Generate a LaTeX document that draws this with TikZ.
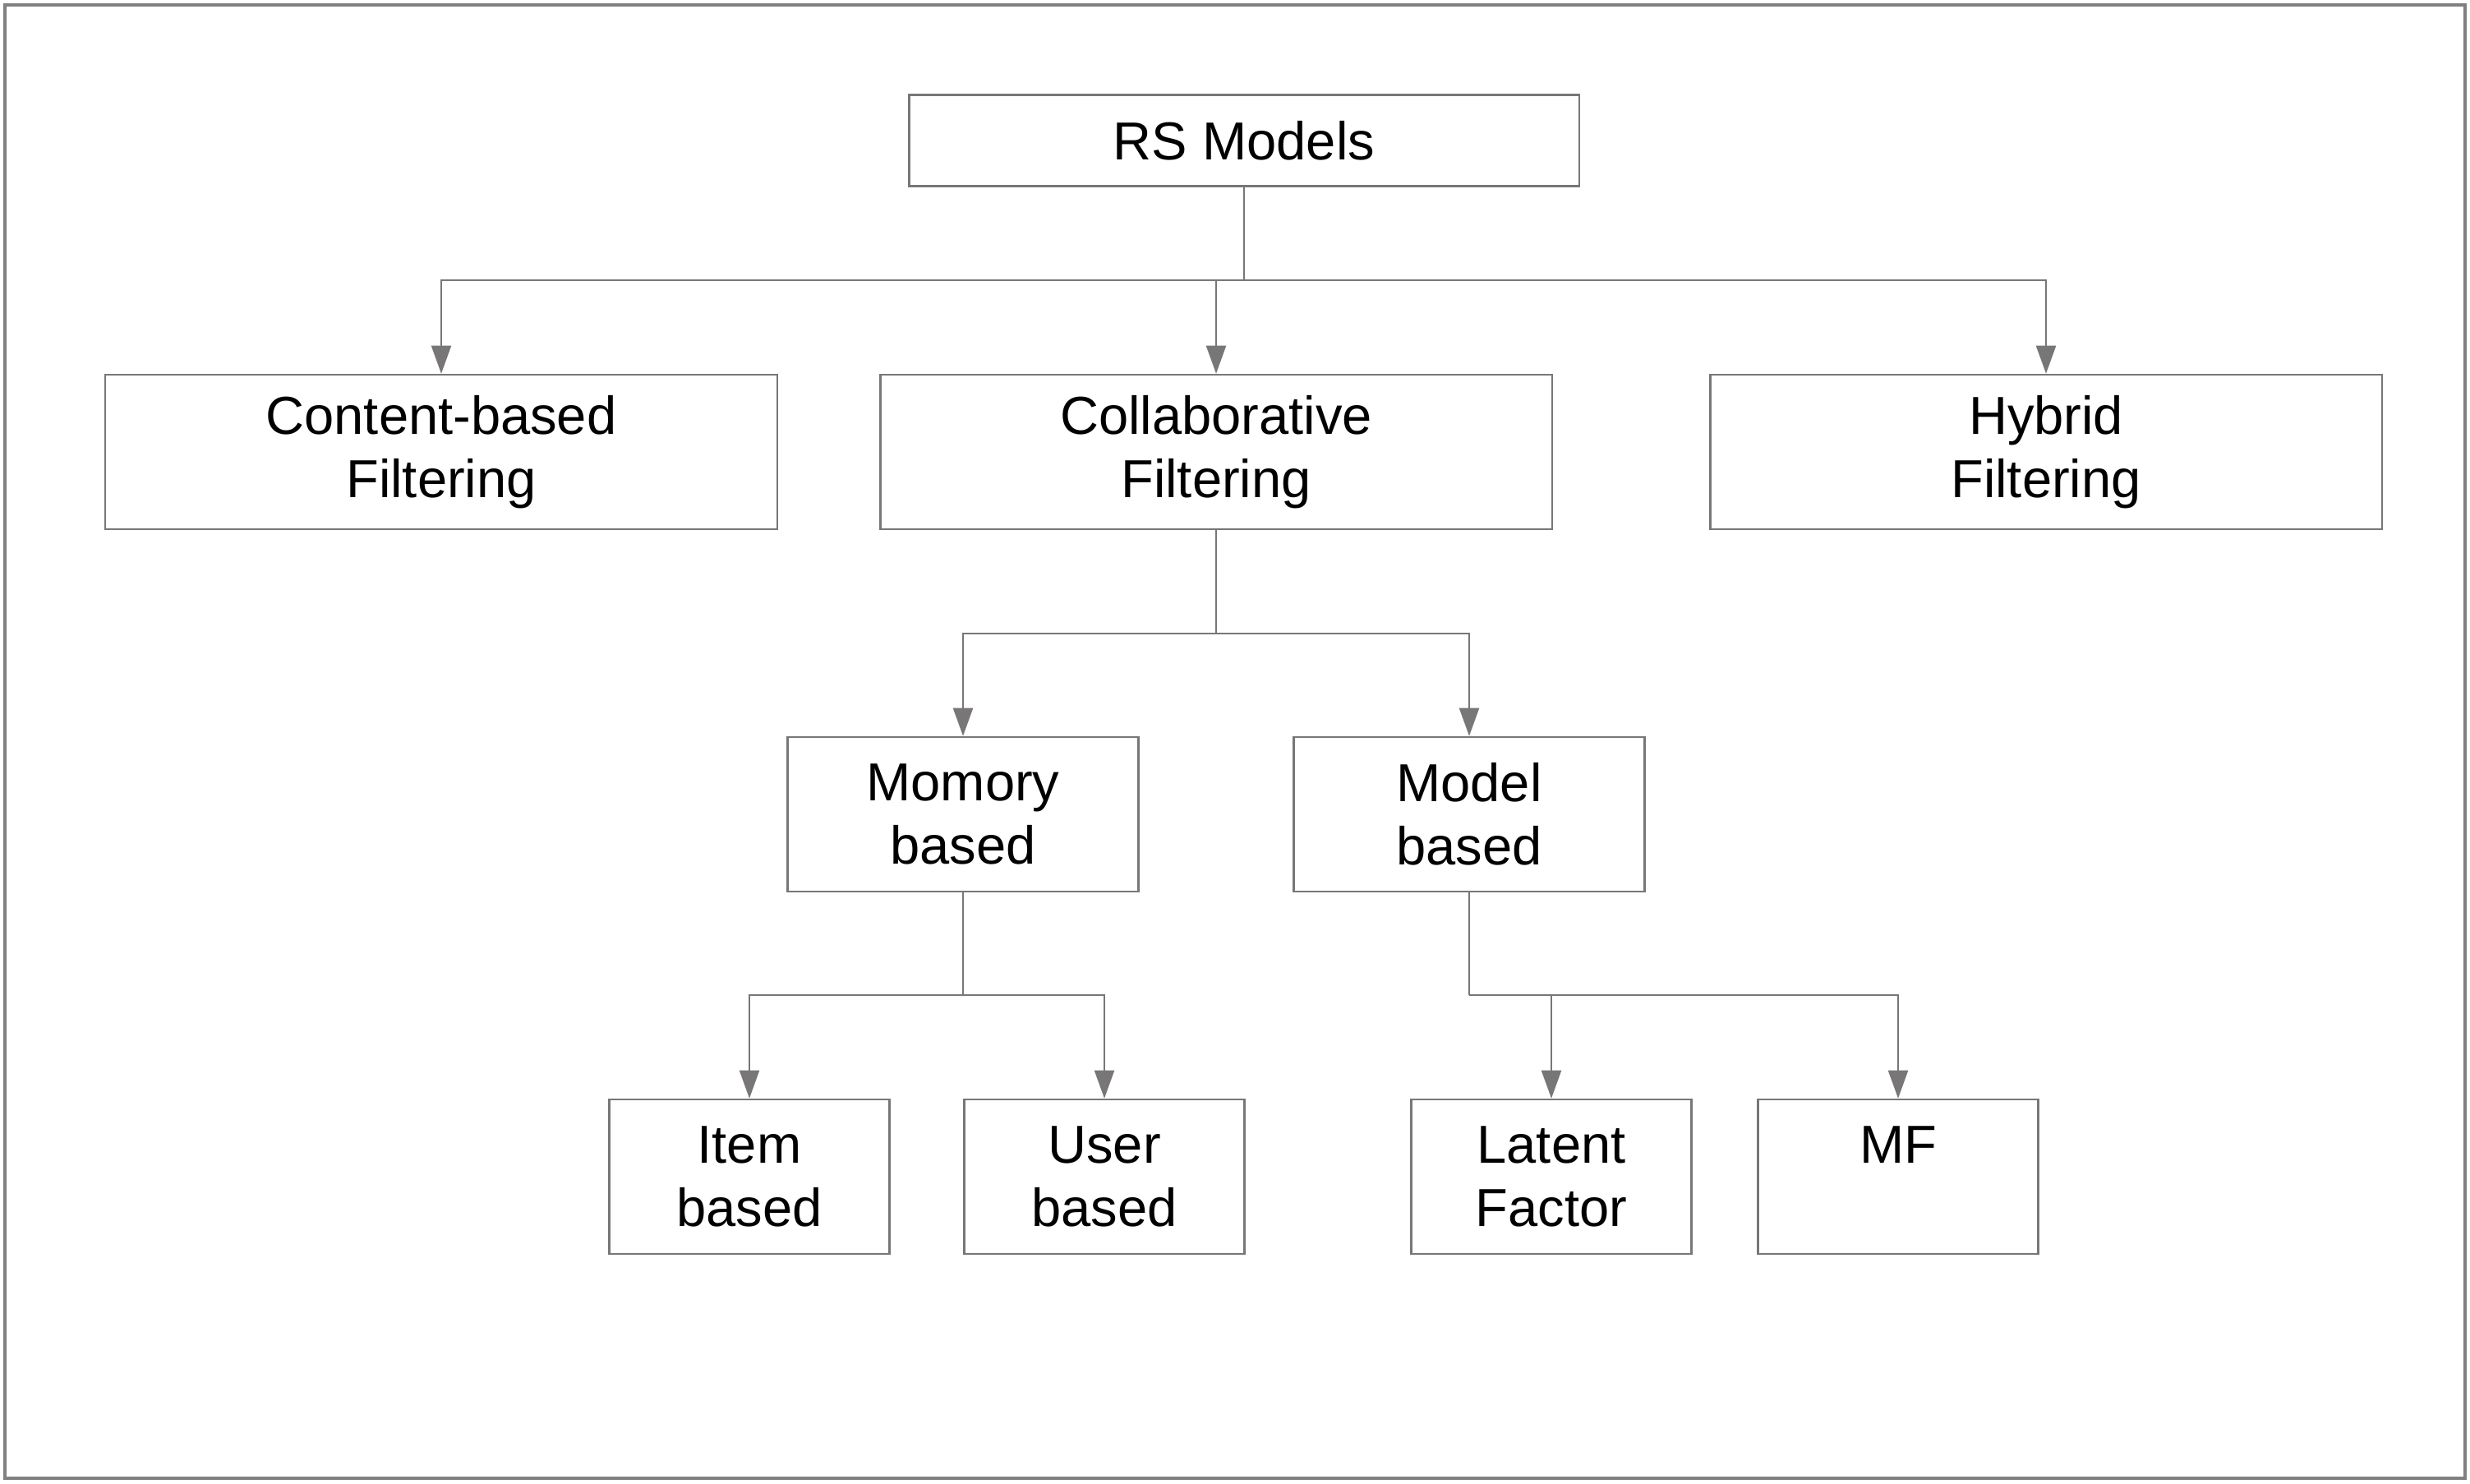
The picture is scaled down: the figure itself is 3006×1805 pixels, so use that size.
\documentclass[tikz,border=0pt]{standalone}
\usepackage{fontspec}
\setmainfont{Liberation Sans}
\usetikzlibrary{arrows.meta}
\usetikzlibrary{positioning}
\definecolor{line-gray}{RGB}{120,118,118}
\definecolor{frame-gray}{RGB}{128,128,128}

\begin{document}
\begin{tikzpicture}[x=0.01cm, y=-0.01cm,
  box/.style={draw=line-gray, line width=0.7pt, align=center, inner sep=0pt,
    font=\fontsize{18.5}{22}\selectfont},
  wide/.style={box, minimum width=8.17cm, minimum height=1.88cm},
  mid/.style={box, minimum width=4.27cm, minimum height=1.88cm},
  small/.style={box, minimum width=3.41cm, minimum height=1.88cm},
  link/.style={draw=line-gray, line width=0.6pt},
  arr/.style={link, -{Triangle[width=0.24cm, length=0.34cm]}}]
% frame
\useasboundingbox (0,0) rectangle (3006,1805);
\draw[frame-gray, line width=1.3pt] (6,6) rectangle (3000,1799);
% top level
\node[box, minimum width=8.15cm, minimum height=1.11cm] (rs) at (1514,171) {RS Models};
% second level
\node[wide] (cbf) at (537,550) {Content-based\\Filtering};
\node[wide] (clf) at (1480,550) {Collaborative\\Filtering};
\node[wide] (hyf) at (2490,550) {Hybrid\\Filtering};
% third level
\node[mid] (mem) at (1172,991) {Momory\\based};
\node[mid] (mod) at (1788,991) {Model\\based};
% leaves
\node[small] (itm) at (912,1432) {Item\\based};
\node[small] (usr) at (1344,1432) {User\\based};
\node[small] (lat) at (1888,1432) {Latent\\Factor};
\node[small] (mf) at (2310,1432) {MF\\\mbox{}};
% branch points
\coordinate (rsj) at (1514,341);
\coordinate (clj) at (1480,771);
\coordinate (memj) at (1172,1211);
\coordinate (modj) at (1788,1211);
% connectors
\draw[link] (rs.south) -- (rsj);
\draw[arr] (rsj) -| (cbf.north);
\draw[arr] (rsj) -| (clf.north);
\draw[arr] (rsj) -| (hyf.north);
\draw[link] (clf.south) -- (clj);
\draw[arr] (clj) -| (mem.north);
\draw[arr] (clj) -| (mod.north);
\draw[link] (mem.south) -- (memj);
\draw[arr] (memj) -| (itm.north);
\draw[arr] (memj) -| (usr.north);
\draw[link] (mod.south) -- (modj);
\draw[arr] (modj) -| (lat.north);
\draw[arr] (modj) -| (mf.north);
\end{tikzpicture}
\end{document}
